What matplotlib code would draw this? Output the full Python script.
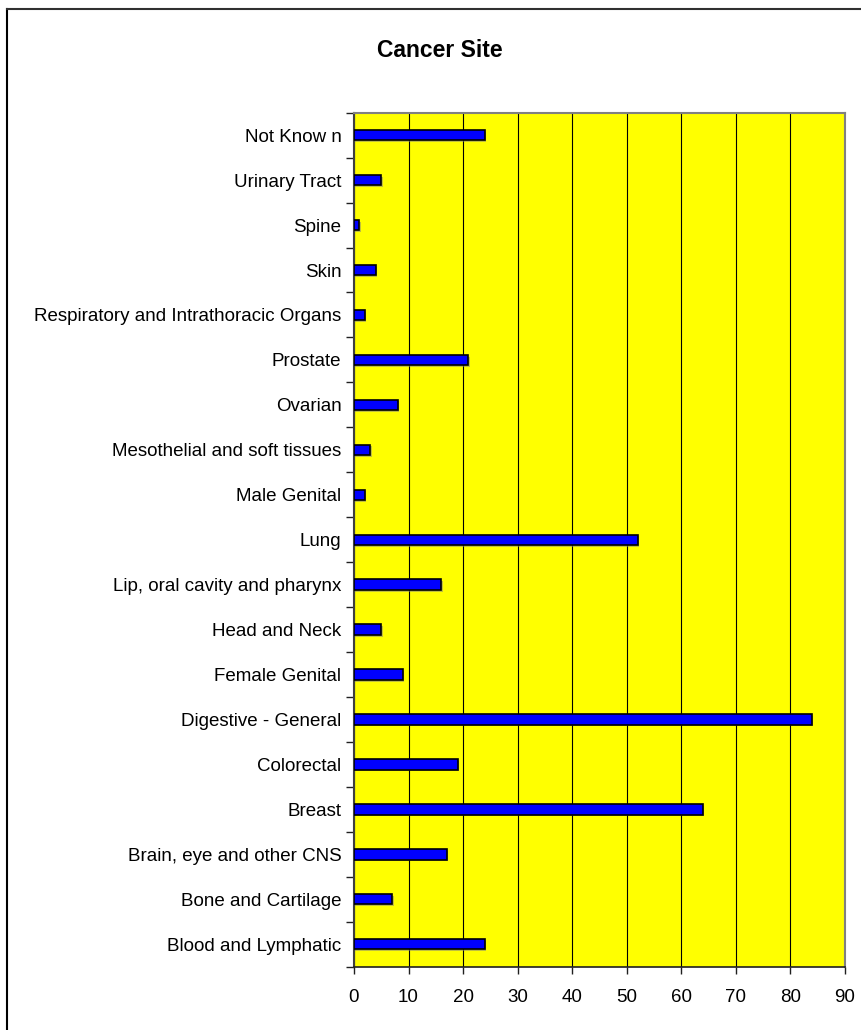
import matplotlib
matplotlib.use("Agg")
import matplotlib.pyplot as plt
from matplotlib.lines import Line2D
import numpy as np

plt.rcParams['font.family'] = ['Liberation Sans', 'DejaVu Sans']

categories = ["Blood and Lymphatic", "Bone and Cartilage", "Brain, eye and other CNS",
              "Breast", "Colorectal", "Digestive - General", "Female Genital",
              "Head and Neck", "Lip, oral cavity and pharynx", "Lung", "Male Genital",
              "Mesothelial and soft tissues", "Ovarian", "Prostate",
              "Respiratory and Intrathoracic Organs", "Skin", "Spine", "Urinary Tract",
              "Not Know n"]
values = [24, 7, 17, 64, 19, 84, 9, 5, 16, 52, 2, 3, 8, 21, 2, 4, 1, 5, 24]
x_ticks = [0, 10, 20, 30, 40, 50, 60, 70, 80, 90]
title = "Cancer Site"

W, H = 862, 1030
fig = plt.figure(figsize=(W / 100, H / 100), dpi=100)
ax = fig.add_axes([354 / W, 1 - 966.7 / H, (844.7 - 354) / W, (966.7 - 112.7) / H])
ax.set_facecolor('#FFFF00')

y = np.arange(len(categories))
# shadow
ax.barh(y - 0.04, values, height=0.23, left=0.25, color='#808080', alpha=0.5, zorder=2, linewidth=0)
ax.barh(y, values, height=0.23, color='#0000FF', edgecolor='black', linewidth=1.2, zorder=3)

ax.set_xlim(0, 90)
ax.set_ylim(-0.5, len(categories) - 0.5)
ax.set_xticks(x_ticks)
ax.set_xticklabels([str(v) for v in x_ticks], fontsize=13.5)
ax.xaxis.grid(True, color='black', linewidth=0.8, zorder=1)
ax.set_axisbelow(True)

ax.set_yticks(y)
ax.set_yticklabels(categories, fontsize=13.5)
ax.tick_params(axis='y', which='major', length=0, pad=9)
ax.set_yticks(np.arange(-0.5, len(categories), 1.0), minor=True)
ax.tick_params(axis='y', which='minor', length=6, width=1, color='#202020')
ax.tick_params(axis='x', which='major', length=5, width=1, color='#202020', pad=11)

for side in ['top', 'right']:
    ax.spines[side].set_color('#808080')
    ax.spines[side].set_linewidth(1.5)
ax.spines['left'].set_color('#404040')
ax.spines['left'].set_linewidth(1.5)
ax.spines['bottom'].set_color('#202020')
ax.spines['bottom'].set_linewidth(1.2)

fig.text(440 / W, 1 - 57.3 / H, title, ha='center', va='baseline', fontsize=16.5, fontweight='bold')

# figure border (left and top)
fig.add_artist(Line2D([7.5 / W, 7.5 / W], [0, 1 - 8.5 / H], color='black', linewidth=1.5,
                      transform=fig.transFigure))
fig.add_artist(Line2D([7.5 / W, 1], [1 - 8.5 / H, 1 - 8.5 / H], color='#303030', linewidth=1.5,
                      transform=fig.transFigure))

fig.savefig('out.png', dpi=100)
